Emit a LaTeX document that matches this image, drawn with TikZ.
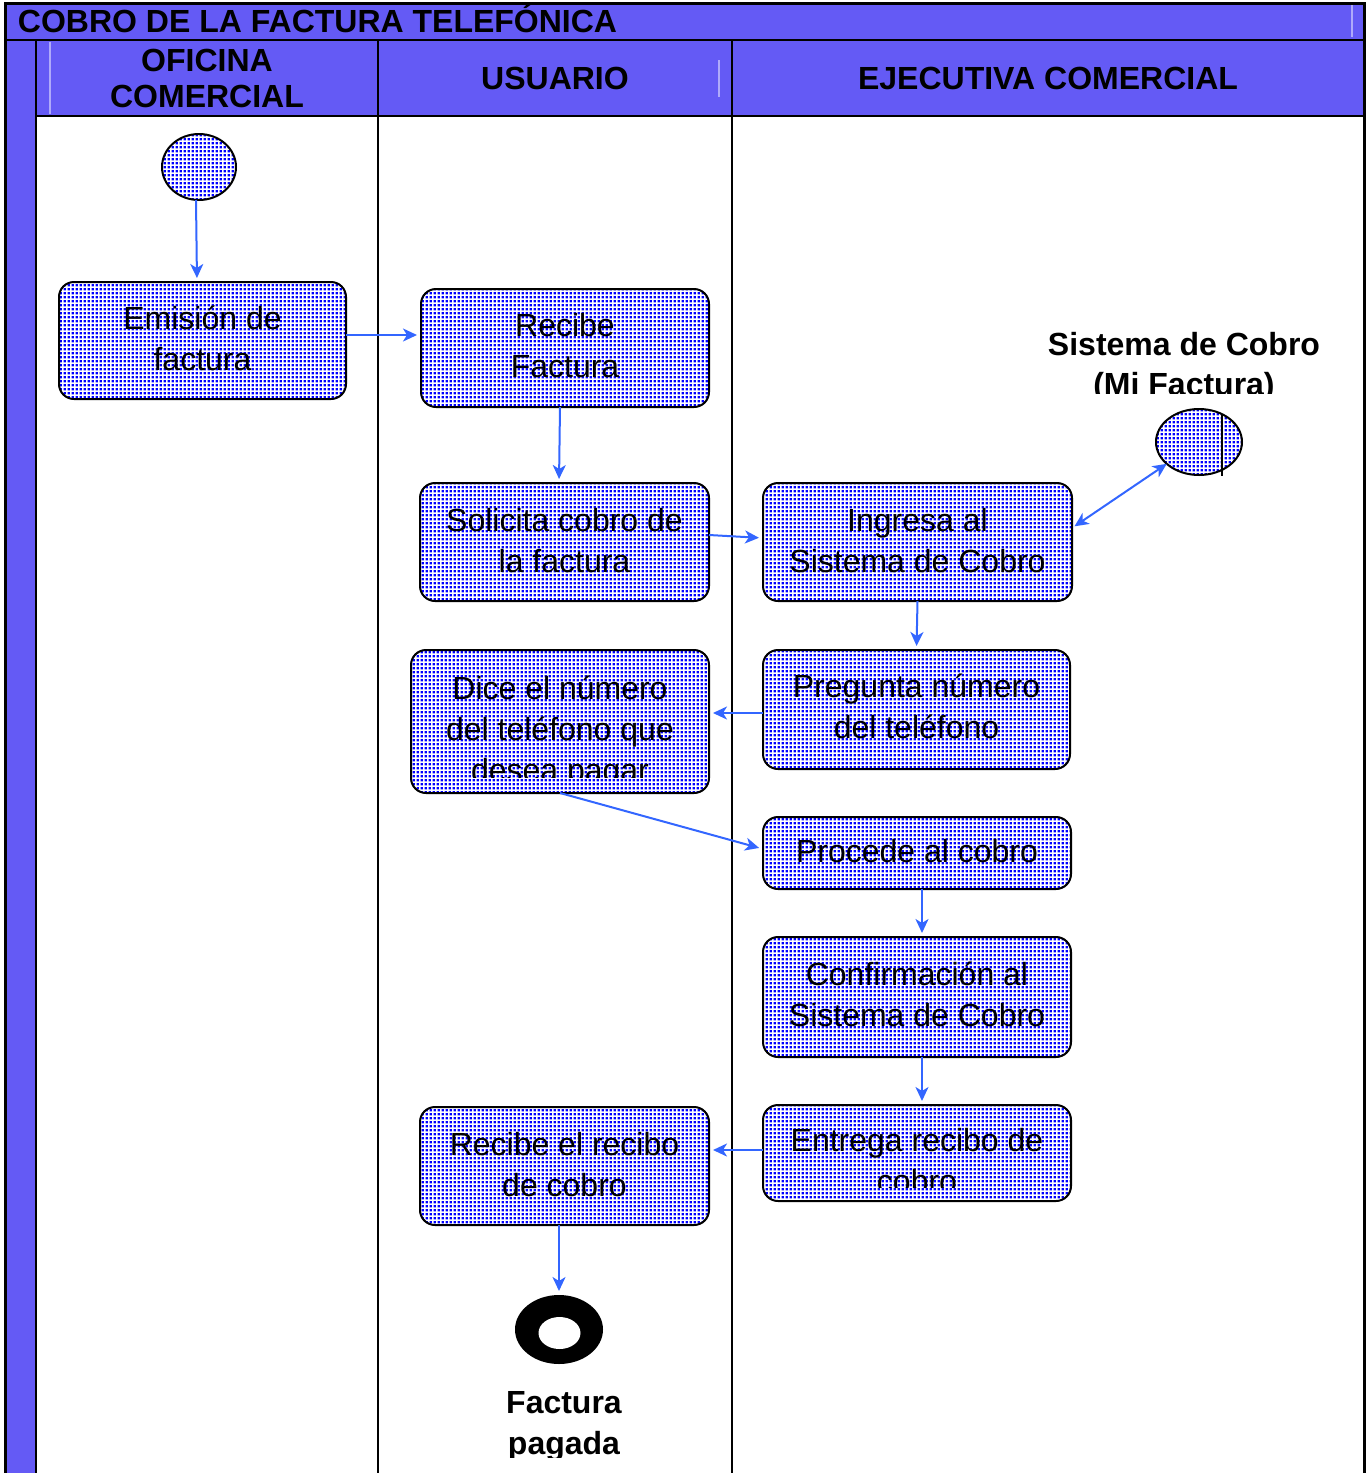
\documentclass[tikz,border=0pt]{standalone}
\usepackage{fontspec}
\setmainfont{Liberation Sans}
\usetikzlibrary{arrows.meta,shapes.geometric,patterns.meta}

\definecolor{lanefill}{RGB}{100,90,245}
\definecolor{flowblue}{RGB}{51,102,255}
\definecolor{dotblue}{RGB}{0,0,255}
\definecolor{seam}{RGB}{175,170,250}

% small square blue dots on a regular grid
\tikzdeclarepattern{
  name=bluedots,
  type=uncolored,
  bottom left={(0pt,0pt)},
  top right={(2.15pt,2.15pt)},
  tile size={(2.15pt,2.15pt)},
  code={\fill (0.4pt,0.4pt) rectangle (1.7pt,1.7pt);}
}

\begin{document}
\begin{tikzpicture}[x=0.5pt,y=-0.5pt,
  every node/.style={inner sep=0pt,outer sep=0pt},
  txt/.style={font=\fontsize{16}{20.5}\selectfont,align=center,text=black},
  head/.style={font=\bfseries\fontsize{16}{18}\selectfont,align=center,text=black},
  act/.style={draw=black,line width=1pt,rounded corners=7.5pt,pattern=bluedots,pattern color=dotblue},
  blob/.style={ellipse,draw=black,line width=1pt,pattern=bluedots,pattern color=dotblue},
  boxlabel/.style n args={3}{path picture={
    \clip ([yshift=#1]path picture bounding box.south west) rectangle (path picture bounding box.north east);
    \node[txt] at ([yshift=#2]path picture bounding box.center) {#3};}},
  tip/.tip={Stealth[length=7pt,width=6.5pt,inset=2pt]},
  flow/.style={draw=flowblue,line width=1pt,-tip,shorten >=2pt}
]
\useasboundingbox (0,0) rectangle (1367,1473);

% swimlane frame
\fill[lanefill] (5,3) rectangle (1364,116);
\fill[lanefill] (5,116) rectangle (36,1473);
\draw[seam,line width=0.6pt] (50,42) -- (50,114);
\draw[seam,line width=0.6pt] (719,60) -- (719,97);
\draw[seam,line width=0.6pt] (1352,5) -- (1352,37);
\draw[line width=1.5pt] (5,1473) -- (5,3) -- (1364,3) -- (1364,1473);
\draw[line width=1.2pt] (5,40) -- (1364,40);
\draw[line width=1.2pt] (36,116) -- (1364,116);
\draw[line width=1pt] (36,40) -- (36,1473) (378,40) -- (378,1473) (732,40) -- (732,1473);

% headings
\node[head,anchor=west] (title) at (18,18.5) {COBRO DE LA FACTURA TELEFÓNICA};
\node[head] (laneA) at (207,78) {OFICINA\\COMERCIAL};
\node[head] (laneB) at (555,78) {USUARIO};
\node[head] (laneC) at (1048,78) {EJECUTIVA COMERCIAL};

% start and external system
\node[blob,minimum width=37pt,minimum height=33pt] (start) at (199,167) {};
\node[blob,minimum width=43pt,minimum height=33pt] (sistema) at (1199,442) {};
\draw[line width=1pt] (1222,415) -- (1222,476);
\begin{scope}
  \clip (1000,300) rectangle (1367,393);
  \node[head,font=\bfseries\fontsize{16}{20}\selectfont] (sistemalabel) at (1184,367) {Sistema de Cobro\\(Mi Factura)};
\end{scope}

% activities
\node[act,minimum width=143.5pt,minimum height=58.5pt,boxlabel={0pt}{1.25pt}{Emisión de\\factura}] (emision) at (202.5,340.5) {};
\node[act,minimum width=144pt,minimum height=59pt,boxlabel={0pt}{1.25pt}{Recibe\\Factura}] (recibe) at (565,348) {};
\node[act,minimum width=144.5pt,minimum height=59pt,boxlabel={0pt}{0.75pt}{Solicita cobro de\\la factura}] (solicita) at (564.5,542) {};
\node[act,minimum width=154.5pt,minimum height=59pt,boxlabel={0pt}{0.75pt}{Ingresa al\\Sistema de Cobro}] (ingresa) at (917.5,542) {};
\node[act,minimum width=153.5pt,minimum height=59.5pt,boxlabel={0pt}{1.5pt}{Pregunta número\\del teléfono}] (pregunta) at (916.5,709.5) {};
\node[act,minimum width=149pt,minimum height=71.5pt,boxlabel={8pt}{-5.5pt}{Dice el número\\del teléfono que\\desea pagar}] (dice) at (560,721.5) {};
\node[act,minimum width=154pt,minimum height=36pt,boxlabel={0pt}{1pt}{Procede al cobro}] (procede) at (917,853) {};
\node[act,minimum width=154pt,minimum height=60pt,boxlabel={0pt}{1.5pt}{Confirmación al\\Sistema de Cobro}] (confirma) at (917,997) {};
\node[act,minimum width=154pt,minimum height=48pt,boxlabel={7pt}{-3.75pt}{Entrega recibo de\\cobro}] (entrega) at (917,1153) {};
\node[act,minimum width=144.5pt,minimum height=59pt,boxlabel={0pt}{0.5pt}{Recibe el recibo\\de cobro}] (recibo) at (564.5,1166) {};

% final state
\node[ellipse,fill=black,minimum width=44pt,minimum height=34.5pt] (finish) at (559,1329.5) {};
\node[ellipse,fill=white,minimum width=21pt,minimum height=16pt] (finishhole) at (559.5,1333) {};
\begin{scope}
  \clip (380,1370) rectangle (732,1457);
  \node[head,font=\bfseries\fontsize{16}{20.5}\selectfont] (paid) at (564,1426) {Factura\\pagada};
\end{scope}

% control flow
\draw[flow] ([xshift=-1.5pt]start.south) -- ([xshift=-2.75pt]emision.north);
\draw[flow] ([yshift=2.75pt]emision.east) -- ([yshift=6.5pt]recibe.west);
\draw[flow] ([xshift=-2.5pt]recibe.south) -- ([xshift=-2.75pt]solicita.north);
\draw[flow] ([yshift=3.5pt]solicita.east) -- ([yshift=2pt]ingresa.west);
\draw[flow,tip-tip,shorten <=1.5pt,shorten >=0pt] ([yshift=7pt]ingresa.east) -- (sistema);
\draw[flow] (ingresa.south) -- (pregunta.north);
\draw[flow] ([yshift=-1.75pt]pregunta.west) -- ([yshift=4.25pt]dice.east);
\draw[flow] (dice.south) -- ([yshift=2pt]procede.west);
\draw[flow] ([xshift=2.5pt]procede.south) -- ([xshift=2.5pt]confirma.north);
\draw[flow] ([xshift=2.5pt]confirma.south) -- ([xshift=2.5pt]entrega.north);
\draw[flow] ([yshift=1.5pt]entrega.west) -- ([yshift=8pt]recibo.east);
\draw[flow] ([xshift=-2.75pt]recibo.south) -- (finish.north);
\end{tikzpicture}
\end{document}
